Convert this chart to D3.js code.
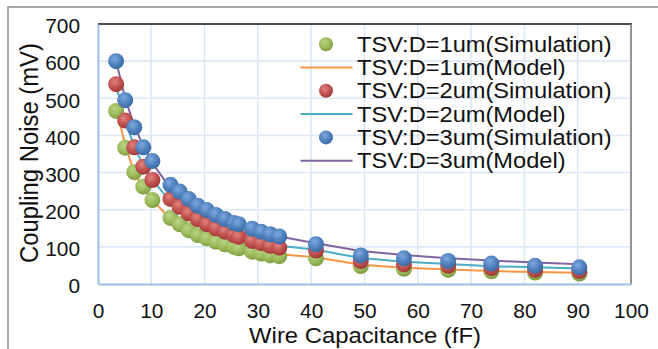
<!DOCTYPE html>
<html>
<head>
<meta charset="utf-8">
<script src="https://cdn.jsdelivr.net/npm/d3@7"></script>
<style>
  html, body { margin: 0; padding: 0; background: #fff; }
  svg { display: block; font-family: "Liberation Sans", Arial, sans-serif; }
</style>
</head>
<body>
<svg id="chart" width="658" height="349"></svg>
<script>
// ---- data ----
const wireCap = [3.4, 5.1, 6.8, 8.5, 10.2, 13.6, 15.3, 17.0, 18.7, 20.4, 22.1, 23.8, 25.5, 26.4,
                 28.9, 30.6, 32.3, 34.0, 40.9, 49.3, 57.4, 65.7, 73.8, 82.0, 90.3];

const sim1um = [466, 367, 301, 262, 226, 178, 161, 145, 132, 123, 114, 107, 100, 96,
                87, 82, 77, 75, 69, 48, 41, 38, 34, 31, 28];
const sim2um = [538, 440, 368, 316, 280, 229, 208, 190, 175, 161, 150, 141, 132, 127,
                116, 110, 103, 98, 90, 62, 53, 49, 43, 38, 35];
const sim3um = [600, 495, 422, 368, 331, 267, 249, 229, 211, 199, 186, 175, 164, 161,
                149, 141, 134, 128, 107, 77, 69, 62, 55, 49, 45];

const model1um = [475, 375, 300, 258, 226, 175, 158, 143, 131, 121, 113, 106, 100, 96,
                  89, 85, 82, 80, 72, 52, 44, 39, 35, 32, 30];
const model2um = [535, 440, 370, 318, 280, 222, 205, 188, 173, 160, 150, 141, 133, 129,
                  118, 112, 107, 103, 92, 70, 60, 54, 48, 45, 42];
const model3um = [600, 500, 425, 372, 325, 258, 242, 224, 208, 195, 183, 172, 163, 158,
                  148, 140, 134, 128, 110, 89, 78, 69, 63, 58, 53];

const xTicks = [0, 10, 20, 30, 40, 50, 60, 70, 80, 90, 100];
const yTicks = [0, 100, 200, 300, 400, 500, 600, 700];

const simNames = ["TSV:D=1um(Simulation)", "TSV:D=2um(Simulation)", "TSV:D=3um(Simulation)"];
const modelNames = ["TSV:D=1um(Model)", "TSV:D=2um(Model)", "TSV:D=3um(Model)"];

// ---- drawing ----
const svg = d3.select("#chart");
const L = 98, R = 631, T = 24, B = 284;
const K = 1.065; // horizontal stretch of the reference's glyphs
const x = d3.scaleLinear().domain([0, 100]).range([L, R]);
const y = d3.scaleLinear().domain([0, 700]).range([B, T]);

// outer chart frame
svg.append("rect").attr("x", 8).attr("y", 7).attr("width", 700).attr("height", 400)
  .attr("fill", "none").attr("stroke", "#8a8a8a").attr("stroke-width", 1.5);

// gridlines
const grid = svg.append("g");
grid.selectAll("line.v").data(xTicks.filter(d => d > 0 && d < 100)).join("line")
  .attr("x1", d => x(d)).attr("x2", d => x(d)).attr("y1", T).attr("y2", B)
  .attr("stroke", "#dce8f6").attr("stroke-width", 1.6);
grid.selectAll("line.h").data(yTicks.filter(d => d > 0 && d < 700)).join("line")
  .attr("x1", L).attr("x2", R).attr("y1", d => y(d)).attr("y2", d => y(d))
  .attr("stroke", "#dce8f6").attr("stroke-width", 1.6);

// plot border: top black, right grey
svg.append("line").attr("x1", L).attr("x2", R + 1).attr("y1", T).attr("y2", T)
  .attr("stroke", "#111").attr("stroke-width", 1.3);
svg.append("line").attr("x1", R).attr("x2", R).attr("y1", T).attr("y2", B)
  .attr("stroke", "#777").attr("stroke-width", 1.6);

// axes
const xAxis = svg.append("g").attr("transform", `translate(0,${B})`)
  .call(d3.axisBottom(x).tickValues(xTicks).tickSize(0).tickPadding(18));
const yAxis = svg.append("g").attr("transform", `translate(${L},0)`)
  .call(d3.axisLeft(y).tickValues(yTicks).tickSize(0).tickPadding(18));
[xAxis, yAxis].forEach(a => {
  a.select(".domain").attr("stroke", "#9dbfe6").attr("stroke-width", 2);
  a.selectAll("text").attr("font-size", 19.6).attr("fill", "#111")
    .attr("font-family", "'Liberation Sans', Arial, sans-serif")
    .attr("transform", `scale(${K},1)`);
});
xAxis.selectAll("text").attr("y", 34).attr("dy", null);
yAxis.selectAll("text").attr("x", -18 / K).attr("dy", "0.45em");

// axis titles
svg.append("text").attr("transform", `translate(365,343) scale(${K},1)`)
  .attr("text-anchor", "middle")
  .attr("font-size", 22.4).attr("fill", "#111").text("Wire Capacitance (fF)");
svg.append("text").attr("transform", `translate(37.6,153) rotate(-90) scale(${1 / K},1)`)
  .attr("text-anchor", "middle").attr("font-size", 25.4).attr("fill", "#111")
  .text("Coupling Noise (mV)");

// gradients for markers
const defs = svg.append("defs");
const simColors = [
  { id: "g1", hi: "#b9d486", mid: "#9bbb59", lo: "#7f9c44" },
  { id: "g2", hi: "#e08480", mid: "#c0504d", lo: "#9e3b38" },
  { id: "g3", hi: "#7ea8dd", mid: "#4f81bd", lo: "#3c6aa3" }
];
simColors.forEach(c => {
  const g = defs.append("radialGradient").attr("id", c.id)
    .attr("cx", "40%").attr("cy", "35%").attr("r", "65%");
  g.append("stop").attr("offset", "0%").attr("stop-color", c.hi);
  g.append("stop").attr("offset", "60%").attr("stop-color", c.mid);
  g.append("stop").attr("offset", "100%").attr("stop-color", c.lo);
});

const lineColors = ["#f79646", "#4bacc6", "#8064a2"];
const models = [model1um, model2um, model3um];
const sims = [sim1um, sim2um, sim3um];

const lineGen = d3.line().x(d => x(d[0])).y(d => y(d[1]));
models.forEach((m, i) => {
  svg.append("path").datum(wireCap.map((c, k) => [c, m[k]]))
    .attr("d", lineGen).attr("fill", "none")
    .attr("stroke", lineColors[i]).attr("stroke-width", 2);
});
sims.forEach((s, i) => {
  svg.append("g").selectAll("circle").data(wireCap.map((c, k) => [c, s[k]])).join("circle")
    .attr("cx", d => x(d[0])).attr("cy", d => y(d[1])).attr("r", 8)
    .attr("fill", `url(#${simColors[i].id})`);
});

// legend
const leg = svg.append("g");
const rows = [
  { type: "c", i: 0, name: simNames[0] },
  { type: "l", i: 0, name: modelNames[0] },
  { type: "c", i: 1, name: simNames[1] },
  { type: "l", i: 1, name: modelNames[1] },
  { type: "c", i: 2, name: simNames[2] },
  { type: "l", i: 2, name: modelNames[2] }
];
rows.forEach((r, k) => {
  const base = 51.7 + k * 23.3;
  if (r.type === "c") {
    leg.append("circle").attr("cx", 326).attr("cy", base - 7.5).attr("r", 7)
      .attr("fill", `url(#${simColors[r.i].id})`);
  } else {
    leg.append("line").attr("x1", 300.5).attr("x2", 352.5)
      .attr("y1", base - 7.5).attr("y2", base - 7.5)
      .attr("stroke", lineColors[r.i]).attr("stroke-width", 2);
  }
  leg.append("text").attr("transform", `translate(357,${base}) scale(${K},1)`)
    .attr("font-size", 22.2).attr("fill", "#111").text(r.name);
});
</script>
</body>
</html>
